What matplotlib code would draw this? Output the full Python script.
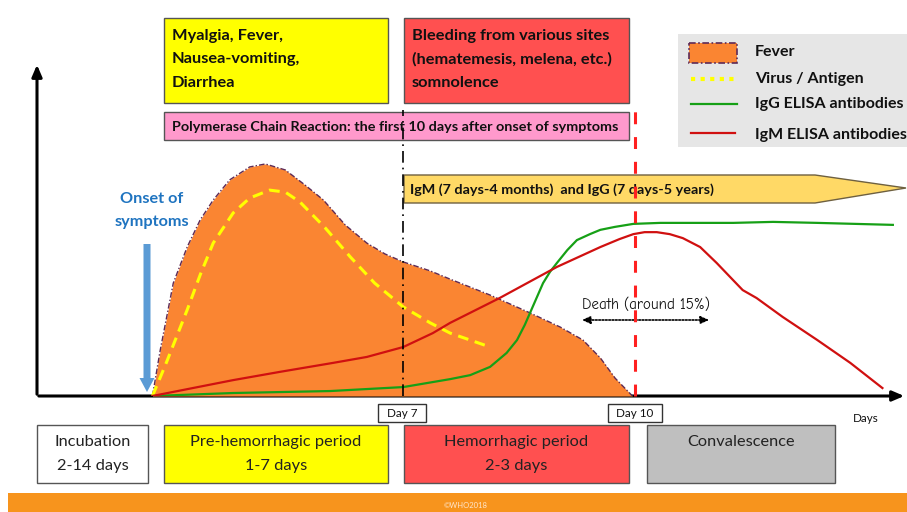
import matplotlib
matplotlib.use("Agg")
import matplotlib.pyplot as plt
from matplotlib.patches import Rectangle, Polygon, FancyArrow

# ---------------- data (schematic time units 0-100, level 0-100) ----------------
fever_x = [13.3, 14.2, 15.7, 17.3, 18.8, 20.3, 22.2, 24.5, 26.3, 28.6, 30.9, 33.0, 35.5,
           38.0, 40.1, 42.2, 45.3, 47.6, 52.2, 56.8, 60.3, 62.9, 64.9, 66.6, 68.6]
fever_y = [0, 13.9, 34.1, 45.0, 53.2, 59.2, 65.3, 69.2, 70.1, 68.3, 63.7, 59.2, 51.7,
           46.2, 42.9, 40.5, 37.8, 35.3, 30.5, 25.1, 20.8, 16.9, 11.5, 5.4, 0]

virus_x = [13.3, 14.8, 17.3, 18.8, 20.3, 22.6, 24.5, 26.8, 28.6, 30.3, 33.2, 36.1, 38.9,
           42.2, 45.3, 47.6, 52.2]
virus_y = [0, 9.4, 26.0, 36.6, 46.2, 55.3, 59.8, 62.2, 61.6, 58.6, 50.8, 42.0, 34.1,
           26.9, 22.1, 19.0, 14.8]

igg_x = [13.3, 22.6, 33.8, 42.2, 47.6, 49.9, 52.2, 54.1, 55.3, 56.2, 56.8, 57.6, 58.3,
         59.1, 59.9, 61.1, 62.2, 63.7, 64.9, 66.6, 68.7, 71.8, 74.4, 80.2, 84.8, 89.9, 98.6]
igg_y = [0, 0.9, 1.5, 2.7, 5.1, 6.3, 8.8, 13.0, 16.9, 21.5, 25.1, 29.9, 34.1,
         37.5, 40.2, 44.1, 47.1, 48.9, 50.2, 51.1, 52.0, 52.3, 52.3, 52.3, 52.6, 52.3, 51.7]

igm_x = [13.3, 22.6, 28.0, 34.1, 38.0, 42.2, 45.6, 47.6, 53.3, 59.9, 64.9, 67.1, 68.7,
         70.0, 71.4, 72.9, 74.4, 76.4, 78.3, 80.2, 81.3, 82.9, 85.9, 89.9, 93.7, 97.4]
igm_y = [0, 4.8, 7.3, 10.0, 11.8, 14.8, 19.0, 22.1, 29.6, 39.0, 45.0, 47.4, 48.9,
         49.5, 49.5, 48.9, 47.7, 45.0, 40.2, 35.0, 32.0, 29.6, 23.9, 16.9, 10.0, 2.4]

onset_x = 13.3
day7_x = 42.2
day10_x = 68.9
day_labels = ["Day 7", "Day 10"]

symptom_boxes = [["Myalgia, Fever,", "Nausea-vomiting,", "Diarrhea"],
                 ["Bleeding from various sites", "(hematemesis, melena, etc.)", "somnolence"]]
pcr_text = "Polymerase Chain Reaction: the first 10 days after onset of symptoms"
ab_text = "IgM (7 days-4 months)  and IgG (7 days-5 years)"
legend_labels = ["Fever", "Virus / Antigen", "IgG ELISA antibodies", "IgM ELISA antibodies"]
period_labels = [["Incubation", "2-14 days"], ["Pre-hemorrhagic period", "1-7 days"],
                 ["Hemorrhagic period", "2-3 days"], ["Convalescence", ""]]

# ---------------- colours ----------------
FEVER = "#FA8532"
FEVER_EDGE = "#5E2A55"
YEL = "#FFFF00"
GREEN = "#16A016"
RED = "#D01010"
BF = ["Lato", "DejaVu Sans"]

fig = plt.figure(figsize=(9.07, 5.12), dpi=100)
W, H = 907, 512

# overlay axes in pixel coordinates
ov = fig.add_axes([0, 0, 1, 1])
ov.set_xlim(0, W)
ov.set_ylim(H, 0)
ov.axis("off")

# main chart axes
ax = fig.add_axes([37 / W, (H - 396) / H, 868 / W, 331 / H])
ax.set_xlim(0, 100)
ax.set_ylim(0, 100)
ax.axis("off")
ax.patch.set_alpha(0)

# fever area
ax.fill_between(fever_x, fever_y, 0, color=FEVER, lw=0, zorder=1)
ax.plot(fever_x, fever_y, color=FEVER_EDGE, lw=1.0, ls=(0, (4, 1.5, 1, 1.5)), zorder=2)
# virus
ax.plot(virus_x, virus_y, color=YEL, lw=2.2, ls=(0, (3.5, 2.2)), zorder=3)
# antibodies
ax.plot(igg_x, igg_y, color=GREEN, lw=1.6, zorder=4, solid_joinstyle="round")
ax.plot(igm_x, igm_y, color=RED, lw=1.6, zorder=5, solid_joinstyle="round")

# day lines
ax.plot([day7_x, day7_x], [0, 86.5], color="black", lw=1.2,
        ls=(0, (7, 3, 1, 3)), zorder=6, clip_on=False)
ax.plot([day10_x, day10_x], [0, 86.5], color="#FF2020", lw=2.2,
        ls=(0, (3.9, 4.2)), zorder=7, clip_on=False)

# axes arrows
ov.annotate("", xy=(37, 62), xytext=(37, 397),
            arrowprops=dict(arrowstyle="-|>,head_length=0.7,head_width=0.3", lw=2.2, color="black"))
ov.annotate("", xy=(907, 396), xytext=(36, 396),
            arrowprops=dict(arrowstyle="-|>,head_length=0.7,head_width=0.3", lw=2.2, color="black"))

# symptom boxes
box_specs = [(164, 18, 224, 85, "#FFFF00"), (404, 18, 225, 85, "#FF5050")]
for (bx, by, bw, bh, col), lines in zip(box_specs, symptom_boxes):
    ov.add_patch(Rectangle((bx, by), bw, bh, facecolor=col, edgecolor="#555555", lw=1.0))
    for i, ln in enumerate(lines):
        ov.text(bx + 8, 36 + 23.5 * i, ln, family=BF, fontweight="bold", fontsize=11.8,
                va="center", ha="left", color="#111111")

# PCR box
ov.add_patch(Rectangle((164, 112), 465, 28, facecolor="#FF99CC", edgecolor="#555555", lw=1.0))
ov.text(172, 127, pcr_text, family=BF, fontweight="bold", fontsize=10.4, va="center",
        ha="left", color="#111111")

# antibody arrow
ov.add_patch(Polygon([(404, 175), (815, 175), (906, 188), (815, 203), (404, 203)],
                     closed=True, facecolor="#FFD966", edgecolor="#6E6040", lw=1.0))
ov.text(410, 190, ab_text, family=BF, fontweight="bold", fontsize=10.4, va="center",
        ha="left", color="#111111")

# legend
ov.add_patch(Rectangle((678, 34), 232, 113, facecolor="#E6E6E6", edgecolor="none"))
ov.add_patch(Rectangle((689, 43), 48, 20, facecolor=FEVER, edgecolor=FEVER_EDGE, lw=1.2,
                       ls=(0, (4, 1.5, 1, 1.5))))
ov.plot([691, 737], [79, 79], color=YEL, lw=3, ls=(0, (1, 1.3)))
ov.plot([691, 737], [104, 104], color=GREEN, lw=1.6)
ov.plot([691, 735], [133, 133], color=RED, lw=1.6)
for lab, yy in zip(legend_labels, [52, 79, 104, 135]):
    ov.text(755, yy, lab, family=BF, fontweight="bold", fontsize=11.5, va="center",
            ha="left", color="#111111")

# onset annotation
ov.text(152, 199, "Onset of", family=BF, fontweight="bold", fontsize=11.7, color="#1F74C0",
        ha="center", va="center")
ov.text(152, 222, "symptoms", family=BF, fontweight="bold", fontsize=11.7, color="#1F74C0",
        ha="center", va="center")
ov.add_patch(FancyArrow(147, 244, 0, 148, width=7, head_width=15, head_length=14,
                        length_includes_head=True, facecolor="#5B9BD5", edgecolor="none"))

# death annotation
ov.text(646, 305, "Death (around 15%)", family=["Comic Neue", "DejaVu Sans"], fontsize=10.8,
        ha="center", va="center", color="#111111")
ov.annotate("", xy=(579, 320), xytext=(712, 320),
            arrowprops=dict(arrowstyle="<|-|>,head_length=0.5,head_width=0.22", lw=1.2,
                            ls=(0, (1, 1)), color="black"))

# day tick boxes
for lab, cx, bw in zip(day_labels, [402, 635], [48, 54]):
    ov.add_patch(Rectangle((cx - bw / 2, 404), bw, 18, facecolor="white", edgecolor="#333333",
                           lw=1.0))
    ov.text(cx, 413.5, lab, family=BF, fontsize=8.4, ha="center", va="center", color="#111111")
ov.text(866, 418, "Days", family=BF, fontsize=8.4, ha="center", va="center", color="#111111")

# period boxes
period_specs = [(37, 111, "white"), (164, 224, "#FFFF00"), (404, 225, "#FF5050"),
                (647, 188, "#BFBFBF")]
for (bx, bw, col), lines in zip(period_specs, period_labels):
    ov.add_patch(Rectangle((bx, 425), bw, 58, facecolor=col, edgecolor="#555555", lw=1.0))
    ov.text(bx + bw / 2, 442, lines[0], family=BF, fontsize=11.8, ha="center", va="center",
            color="#222222")
    if lines[1]:
        ov.text(bx + bw / 2, 466, lines[1], family=BF, fontsize=11.8, ha="center",
                va="center", color="#222222")

# footer
ov.add_patch(Rectangle((8, 493), 900, 20, facecolor="#F7941D", edgecolor="none"))
ov.text(466, 506, "©WHO2018", family=BF, fontsize=5.5, ha="center", va="center",
        color="#FFE6CC")

fig.savefig("out.png", dpi=100)
